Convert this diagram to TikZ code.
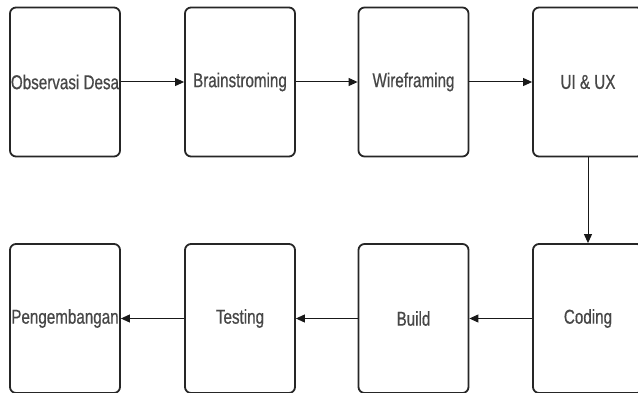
\documentclass[tikz,border=0pt]{standalone}
\usepackage{fontspec}
\setmainfont[FakeStretch=0.76,FakeBold=0.6]{Liberation Sans}
\usetikzlibrary{arrows.meta}
\begin{document}
\begin{tikzpicture}[x=1pt,y=-1pt,
  stagebox/.style={draw=black!85, line width=1.8pt, rounded corners=6pt,
    minimum width=110pt, minimum height=149pt, inner sep=0pt,
    text=black!72, font=\fontsize{20}{22}\selectfont},
  flow/.style={draw=black!90, line width=1pt,
    -{Stealth[length=9pt,width=8pt,inset=0pt]}}]
  \clip (0,0) rectangle (638,393);
  \fill[white] (0,0) rectangle (638,393);

  % top row, left to right
  \node[stagebox] (obs)  at (65,82)    {Observasi Desa};
  \node[stagebox] (brain) at (240,82)  {Brainstroming};
  \node[stagebox] (wire) at (413.5,82) {Wireframing};
  \node[stagebox] (ui)   at (588,82)   {UI \& UX};

  % bottom row, right to left
  \node[stagebox] (code) at (588,318.5)   {Coding};
  \node[stagebox] (build) at (413.5,318.5) {Build};
  \node[stagebox] (test) at (240,318.5)   {Testing};
  \node[stagebox] (dev)  at (65,318.5)    {Pengembangan};

  \draw[flow] (obs) -- (brain);
  \draw[flow] (brain) -- (wire);
  \draw[flow] (wire) -- (ui);
  \draw[flow] (ui) -- (code);
  \draw[flow] (code) -- (build);
  \draw[flow] (build) -- (test);
  \draw[flow] (test) -- (dev);
\end{tikzpicture}
\end{document}
